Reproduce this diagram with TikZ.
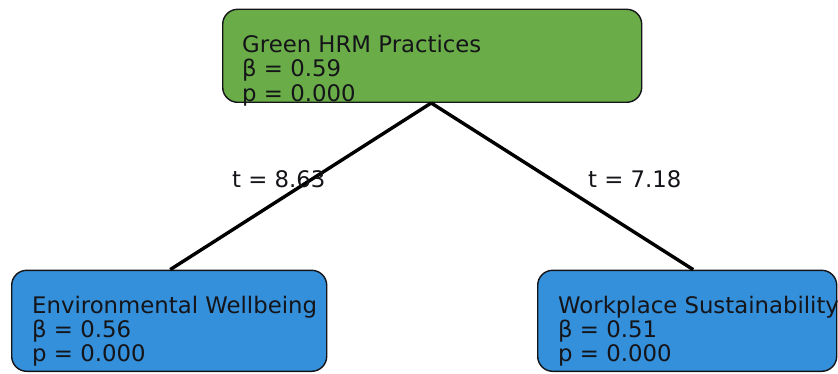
\documentclass[tikz,border=0pt]{standalone}
\usepackage{fontspec}
\setmainfont{DejaVu Sans}
\definecolor{boxgreen}{RGB}{106,173,72}
\definecolor{boxblue}{RGB}{52,144,218}
\definecolor{inkc}{RGB}{20,20,25}
\tikzset{
  x=1pt,y=1pt,
  card/.style={draw=inkc, line width=1.4pt, rounded corners=15pt, inner sep=0pt, anchor=south west},
  txt/.style={anchor=base west, inner sep=0pt, text=inkc, font=\fontsize{22.8}{24}\selectfont},
  link/.style={line width=3.4pt, draw=black},
}
\begin{document}
\begin{tikzpicture}
\useasboundingbox (0,0) rectangle (838,373);
% boxes
\node[card, fill=boxgreen, minimum width=419pt, minimum height=93pt] (top) at (222,270) {};
\node[card, fill=boxblue, minimum width=315pt, minimum height=101pt] (left) at (11,1) {};
\node[card, fill=boxblue, minimum width=299pt, minimum height=101pt] (right) at (537,1) {};
% connectors
\draw[link] ([xshift=-1pt]top.south) -- ([xshift=1pt]left.north);
\draw[link] ([xshift=-1pt]top.south) -- ([xshift=6pt]right.north);
% labels
\node[txt] (t1) at (232,186) {t = 8.63};
\node[txt] (t2) at (588,186) {t = 7.18};
% text
\node[txt] (a1) at (242,320) {Green HRM Practices};
\node[txt] (a2) at (242,296) {β = 0.59};
\node[txt] (a3) at (242,272) {p = 0.000};
\node[txt] (b1) at (32,60) {Environmental Wellbeing};
\node[txt] (b2) at (32,36) {β = 0.56};
\node[txt] (b3) at (32,12) {p = 0.000};
\node[txt] (c1) at (558,60) {Workplace Sustainability};
\node[txt] (c2) at (558,36) {β = 0.51};
\node[txt] (c3) at (558,12) {p = 0.000};
\end{tikzpicture}
\end{document}
